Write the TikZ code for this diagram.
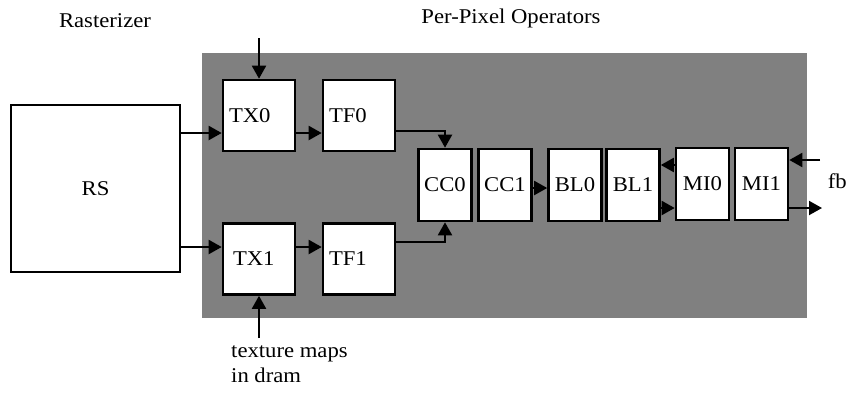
\documentclass[tikz,border=0pt]{standalone}
\usepackage{fontspec}
\setmainfont{Liberation Serif}[FakeStretch=1.08]
\usetikzlibrary{arrows.meta,calc}
\begin{document}
\begin{tikzpicture}[x=1pt,y=-1pt,
 every node/.style={font=\fontsize{21}{25}\selectfont},
 box/.style={draw=black, line width=2.6pt, fill=white, inner sep=0pt},
 lbox/.style={box, align=left, text width=60pt, inner xsep=6pt, minimum height=71pt},
 cbox/.style={box, minimum width=53pt, minimum height=72pt},
 conn/.style={line width=2pt, -{Triangle[length=13pt,width=14pt]}},
 lbl/.style={inner sep=0pt}]
\useasboundingbox (0,0) rectangle (847,392);
% shaded per-pixel region
\fill[black!50] (202,53) rectangle (807,318);
% boxes
\node[box, minimum width=169pt, minimum height=167pt] (RS) at (95.5,188.5) {RS};
\node[lbox] (TX0) at (259,115.5) {TX0};
\node[lbox] (TF0) at (359,115.5) {TF0};
\node[lbox] (TX1) at (259,259) {\hspace*{4pt}TX1};
\node[lbox] (TF1) at (359,259) {TF1};
\node[cbox] (CC0) at (445,185) {CC0};
\node[cbox] (CC1) at (505,185) {CC1};
\node[cbox] (BL0) at (575,185) {BL0};
\node[cbox] (BL1) at (633,185) {BL1};
\node[cbox] (MI0) at (702.5,184) {MI0};
\node[cbox] (MI1) at (761.5,184) {MI1};
% labels
\node[lbl] (rast) at (105,21) {Rasterizer};
\node[lbl] (ppo) at (511,18) {Per-Pixel Operators};
\node[lbl, anchor=east] (fb) at (847,181) {fb};
\node[lbl, align=left, anchor=north west] (tex) at (231,345) {texture maps\\in dram};
% free ends
\coordinate (tx0in) at (259,38);
\coordinate (tx1in) at (259,338);
\coordinate (fbin) at (820,160);
\coordinate (outp) at (822,208);
% connectors
\draw[conn] (tx0in) -- (TX0.north);
\draw[conn] (tx1in) -- (TX1.south);
\draw[conn] (RS.east |- 0,133) -- ([yshift=-17.5pt]TX0.west);
\draw[conn] (RS.east |- 0,247) -- ([yshift=12pt]TX1.west);
\draw[conn] ([yshift=-17.5pt]TX0.east) -- ([yshift=-17.5pt]TF0.west);
\draw[conn] ([yshift=12pt]TX1.east) -- ([yshift=12pt]TF1.west);
\draw[conn] ([yshift=-15.5pt]TF0.east) -| (CC0.north);
\draw[conn] ([yshift=17pt]TF1.east) -| (CC0.south);
\draw[conn] ([yshift=-3pt]CC1.east) -- ([yshift=-3pt]BL0.west);
\draw[conn] ([yshift=19pt]MI0.west) -- ([yshift=19pt]MI0.west -| BL1.east);
\draw[conn] ([yshift=-23pt]BL1.east) -- ([yshift=-23pt]BL1.east -| MI0.west);
\draw[conn] (fbin) -- (fbin -| MI1.east);
\draw[conn] (MI1.east |- outp) -- (outp);
\end{tikzpicture}
\end{document}
